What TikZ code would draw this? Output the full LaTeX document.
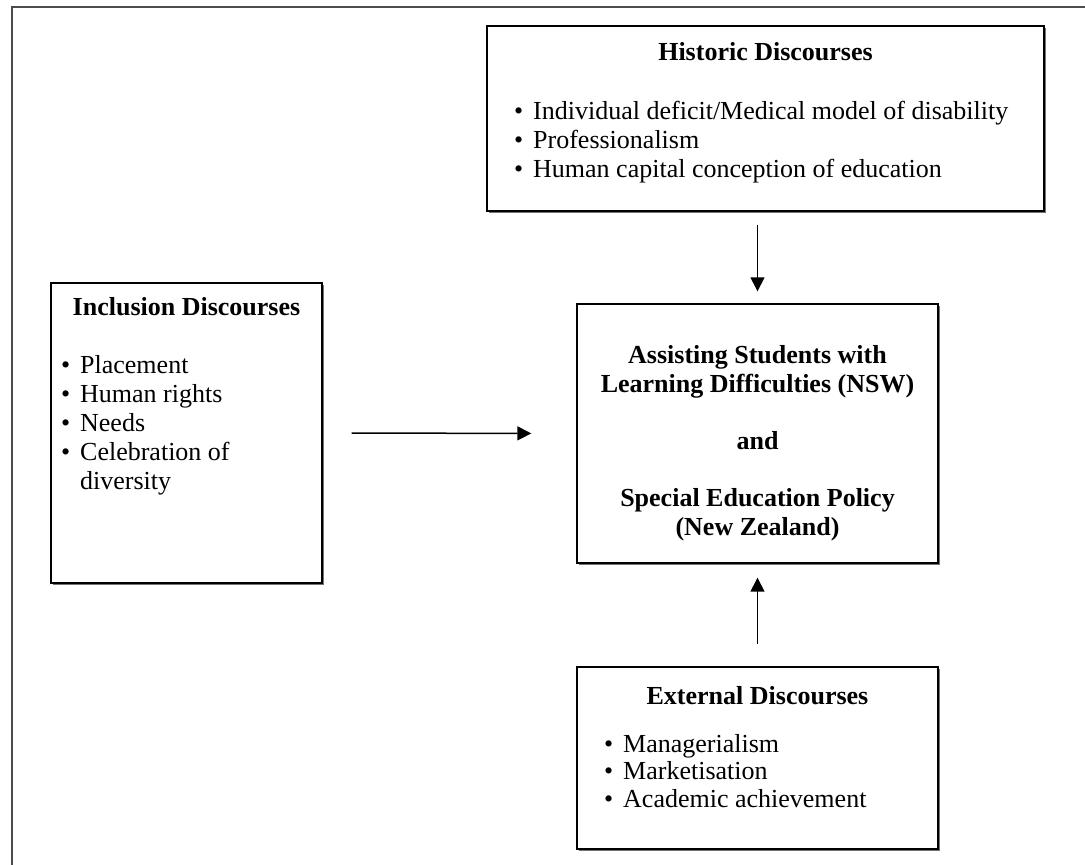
\documentclass[tikz,border=0pt]{standalone}
\usepackage{fontspec}
\setmainfont{Liberation Serif}
\usetikzlibrary{arrows.meta,shadows}
\newcommand{\mybul}{\makebox[19pt][l]{•}}
\begin{document}
\begin{tikzpicture}[x=1pt,y=-1pt,
  box/.style={draw=black, line width=1.4pt, fill=white, inner sep=0pt,
    drop shadow={shadow xshift=1.6pt, shadow yshift=-1.6pt, fill=black!55, opacity=1}},
  arr/.style={line width=1.5pt, -{Triangle[length=14pt,width=14pt]}},
  txt/.style={inner sep=0pt, font=\fontsize{26}{29}\selectfont, align=left},
  ttl/.style={inner sep=0pt, font=\fontsize{26}{29}\selectfont\bfseries, align=center}]
\useasboundingbox (0,0) rectangle (1085,865);
\fill[white] (0,0) rectangle (1085,865);
% outer frame
\draw[line width=1.2pt, black!70] (12,865) -- (12,7) -- (1085,7);
% boxes
\node[box, minimum width=557pt, minimum height=185pt] (hist) at (765.5,118.5) {};
\node[box, minimum width=271pt, minimum height=300pt] (incl) at (186.5,433) {};
\node[box, minimum width=361pt, minimum height=259pt] (pol) at (757.5,433.5) {};
\node[box, minimum width=361pt, minimum height=182pt] (ext) at (757.5,758) {};
% texts (anchor base = baseline of last line)
\node[ttl, anchor=base] (histT) at (765.5,60) {Historic Discourses};
\node[txt, anchor=base west] (histL) at (514,177) {\mybul Individual deficit/Medical model of disability\\ \mybul Professionalism\\ \mybul Human capital conception of education};
\node[ttl, anchor=base] (inclT) at (186.5,315) {Inclusion Discourses};
\node[txt, anchor=base west] (inclL) at (61,489) {\mybul Placement\\ \mybul Human rights\\ \mybul Needs\\ \mybul Celebration of\\ \hspace*{19pt}diversity};
\node[ttl, anchor=base] (polT) at (757.5,535) {Assisting Students with\\Learning Difficulties (NSW)\\[28pt]and\\[28pt]Special Education Policy\\(New Zealand)};
\node[ttl, anchor=base] (extT) at (757.5,704) {External Discourses};
\node[txt, anchor=base west] (extL) at (604,807) {\mybul Managerialism\\[-1.5pt] \mybul Marketisation\\[-1.5pt] \mybul Academic achievement};
% arrows
\draw[arr, shorten <=13pt, shorten >=12pt] (pol.north |- hist.south) -- (pol.north);
\draw[arr, shorten <=29pt, shorten >=45pt] (incl.east) -- (pol.west);
\draw[arr, shorten <=22pt, shorten >=14pt] (ext.north) -- (pol.south);
\end{tikzpicture}
\end{document}
